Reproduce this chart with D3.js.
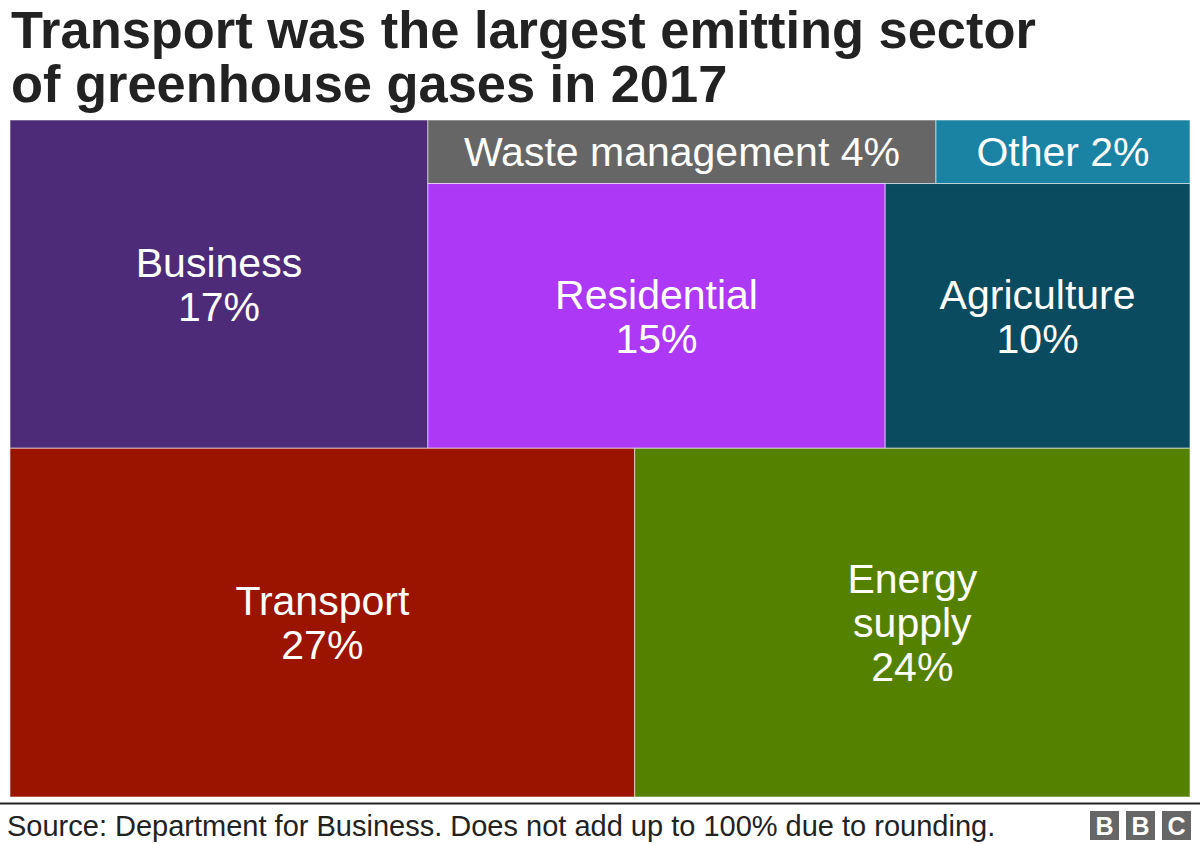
<!DOCTYPE html>
<html>
<head>
<meta charset="utf-8">
<script src="https://cdn.jsdelivr.net/npm/d3@7"></script>
<style>
  body { margin: 0; background: #fff; }
  svg { display: block; font-family: "Liberation Sans", Arial, Helvetica, sans-serif; }
</style>
</head>
<body>
<div id="chart"></div>
<script>
const sectors = ["Business", "Waste management", "Other", "Residential", "Agriculture", "Transport", "Energy supply"]
const shares = [17, 4, 2, 15, 10, 27, 24]
const labelLines = [
  ["Business", "17%"],
  ["Waste management 4%"],
  ["Other 2%"],
  ["Residential", "15%"],
  ["Agriculture", "10%"],
  ["Transport", "27%"],
  ["Energy", "supply", "24%"]
]
const colours = ["#4d2b79", "#666666", "#1a83a3", "#ad38f5", "#0a4b5f", "#9a1400", "#548200"]
// how the blocks are grouped: arrays are groups, numbers index the sectors
const groups = [[0, [[1, 2], [3, 4]]], [5, 6]]

const titleLines = ["Transport was the largest emitting sector", "of greenhouse gases in 2017"]
const source = "Source: Department for Business. Does not add up to 100% due to rounding."

const width = 1200, height = 844
const margin = {top: 120, right: 10, bottom: 47, left: 10}

function build(g) {
  return Array.isArray(g) ? {children: g.map(build)} : {i: g, name: sectors[g], value: shares[g]}
}

const root = d3.hierarchy(build(groups)).sum(d => d.value || 0)

// rows at even depths, columns at odd depths
const tile = (node, x0, y0, x1, y1) =>
  (node.depth & 1 ? d3.treemapDice : d3.treemapSlice)(node, x0, y0, x1, y1)

d3.treemap()
  .tile(tile)
  .size([width - margin.left - margin.right, height - margin.top - margin.bottom])(root)

const svg = d3.select("#chart").append("svg")
  .attr("width", width)
  .attr("height", height)

svg.append("g")
  .selectAll("text")
  .data(titleLines)
  .join("text")
    .attr("x", 11)
    .attr("y", (d, i) => 48 + i * 54)
    .attr("fill", "#222")
    .attr("font-size", 52.4)
    .attr("font-weight", "bold")
    .text(d => d)

const cell = svg.append("g")
    .attr("transform", `translate(${margin.left},${margin.top})`)
  .selectAll("g")
  .data(root.leaves())
  .join("g")
    .attr("transform", d => `translate(${d.x0},${d.y0})`)

cell.append("rect")
    .attr("width", d => d.x1 - d.x0)
    .attr("height", d => d.y1 - d.y0)
    .attr("fill", d => colours[d.data.i])
    .attr("stroke", "rgba(255,255,255,0.55)")
    .attr("stroke-width", 1)

const fontSize = 41, lineH = 44
cell.append("text")
    .attr("fill", "#fff")
    .attr("font-size", fontSize)
    .attr("text-anchor", "middle")
  .selectAll("tspan")
  .data(d => labelLines[d.data.i].map((t, k, a) => ({t, k, n: a.length, d})))
  .join("tspan")
    .attr("x", o => (o.d.x1 - o.d.x0) / 2)
    .attr("y", o => (o.d.y1 - o.d.y0) / 2 - (o.n - 1) * lineH / 2 + o.k * lineH + fontSize * 0.358)
    .text(o => o.t)

svg.append("line")
    .attr("x1", 0).attr("x2", width)
    .attr("y1", 803.5).attr("y2", 803.5)
    .attr("stroke", "#222")
    .attr("stroke-width", 2)

svg.append("text")
    .attr("x", 7)
    .attr("y", 836)
    .attr("fill", "#222")
    .attr("font-size", 29)
    .text(source)

const logo = svg.append("g")
  .selectAll("g")
  .data(["B", "B", "C"])
  .join("g")
    .attr("transform", (d, i) => `translate(${1090 + i * 36},811)`)

logo.append("rect")
    .attr("width", 29)
    .attr("height", 29)
    .attr("fill", "#666")

logo.append("text")
    .attr("x", 14.5)
    .attr("y", 24)
    .attr("text-anchor", "middle")
    .attr("fill", "#fff")
    .attr("font-weight", "bold")
    .attr("font-size", 25)
    .text(d => d)
</script>
</body>
</html>
